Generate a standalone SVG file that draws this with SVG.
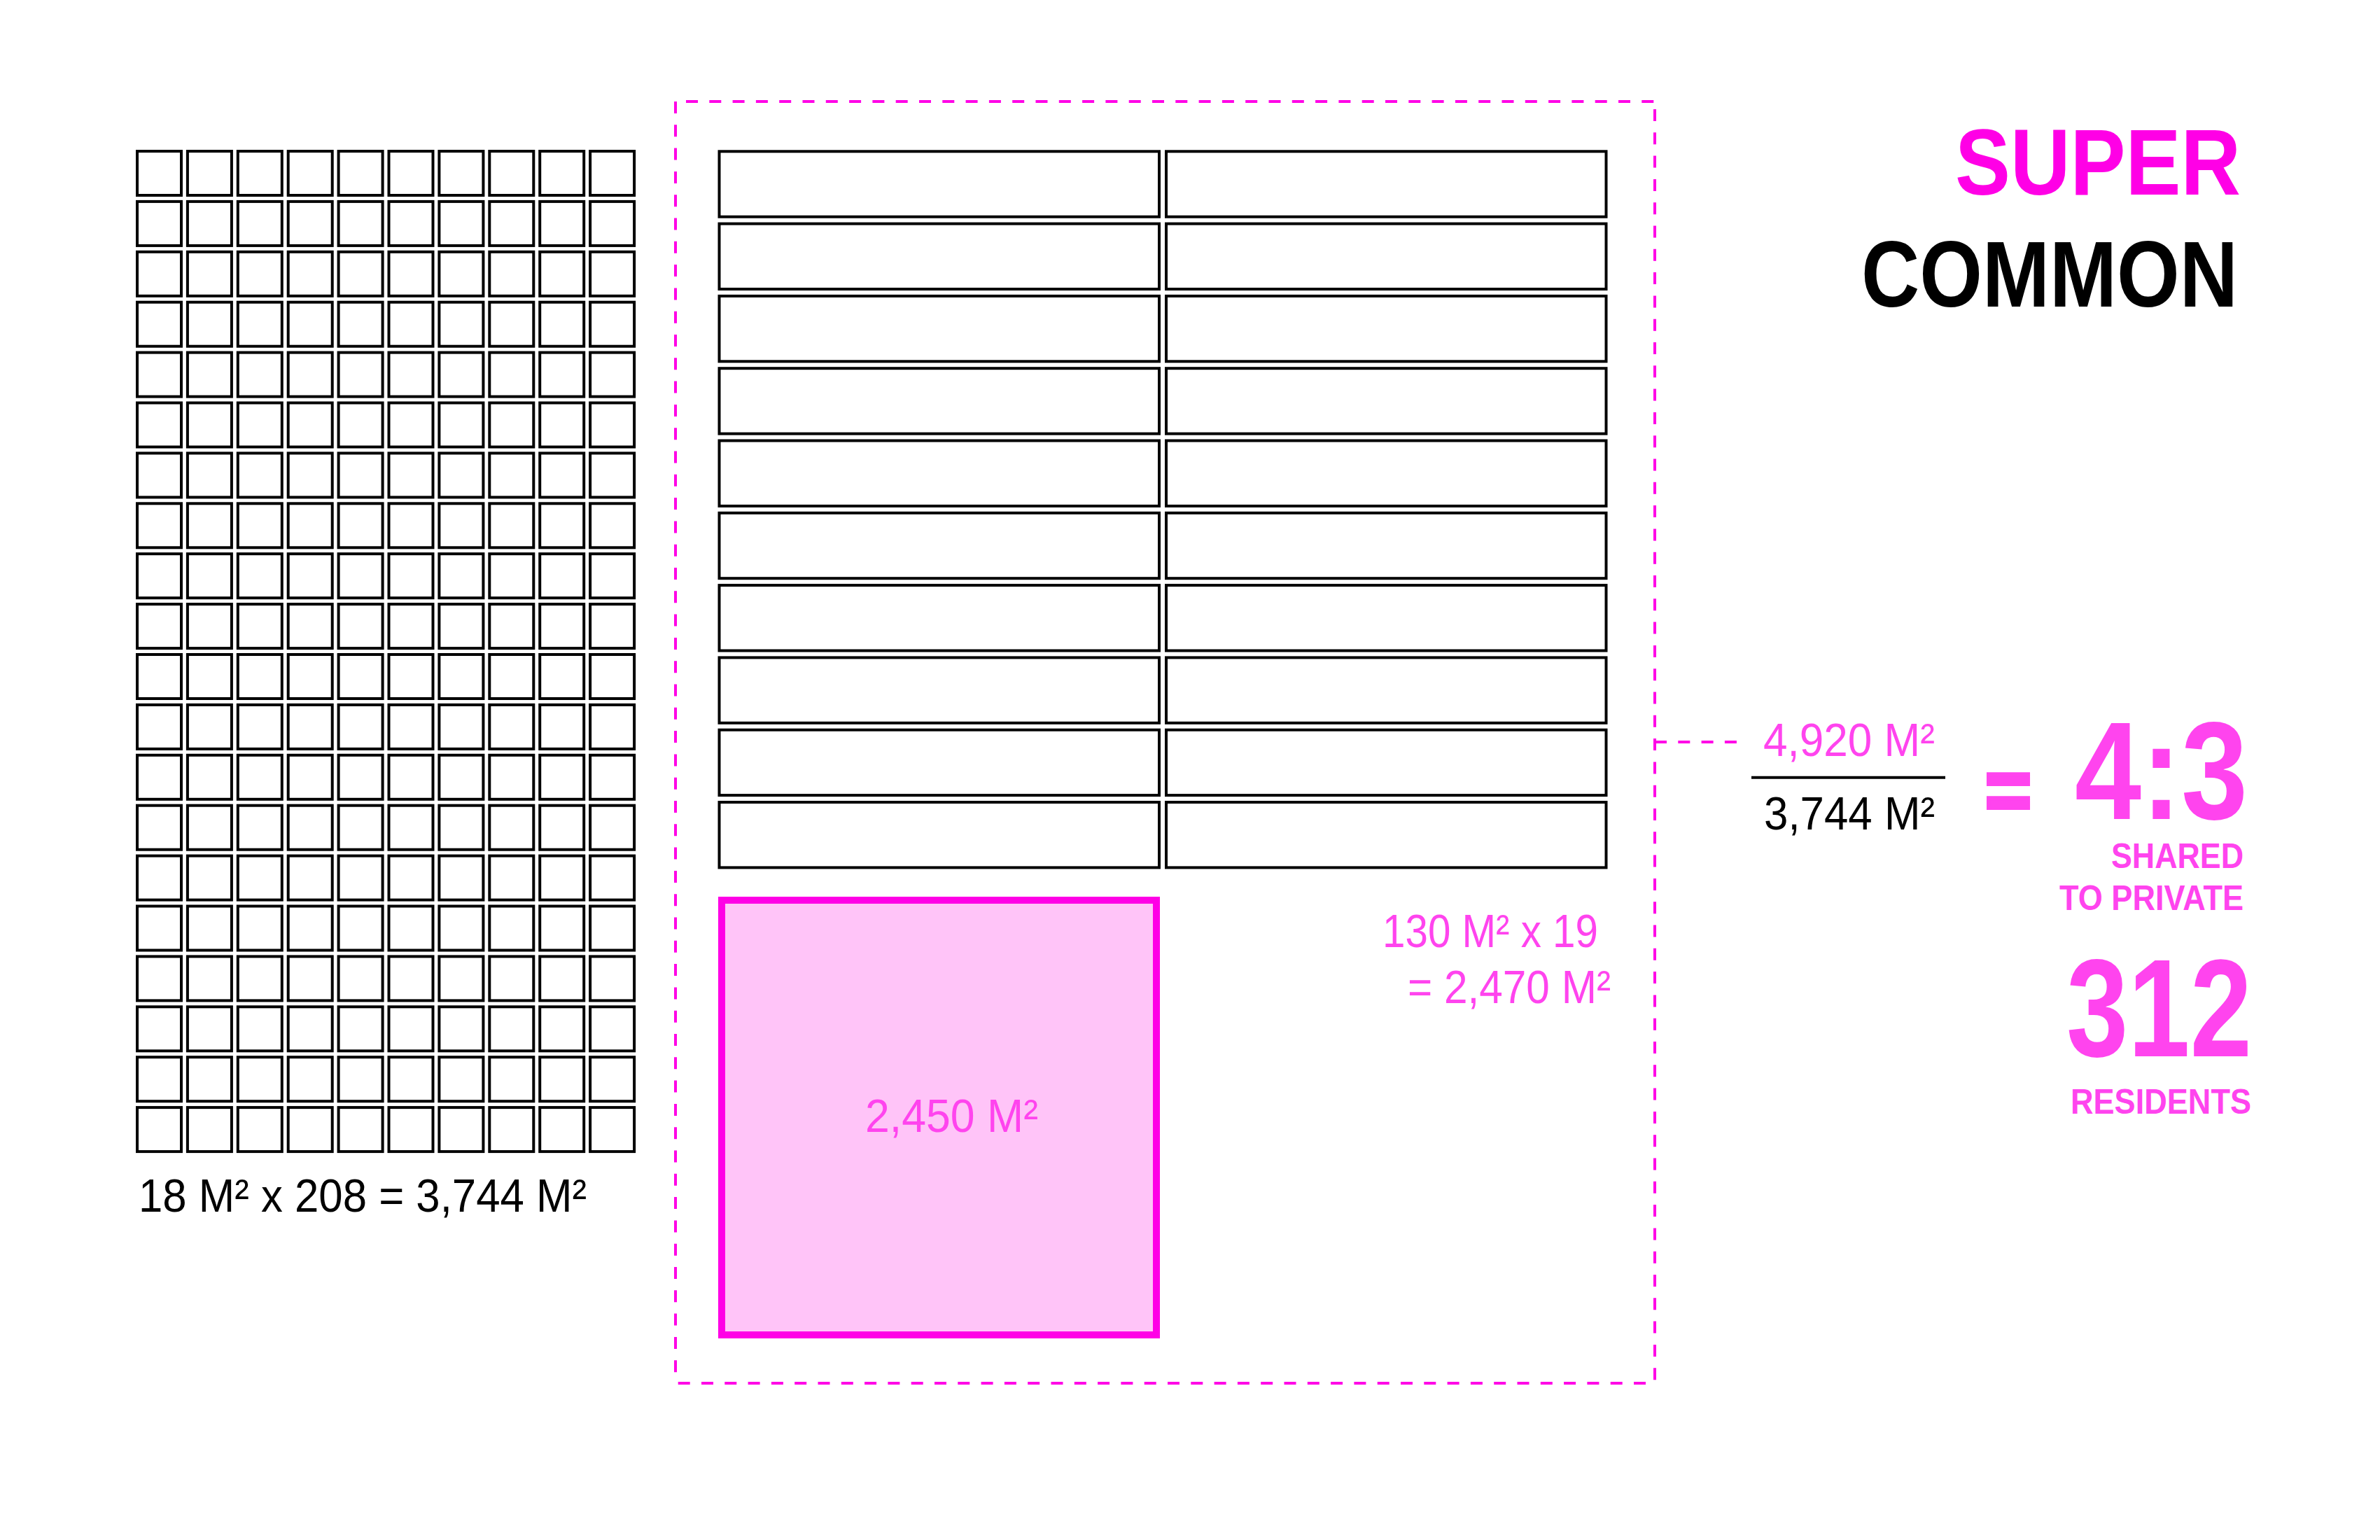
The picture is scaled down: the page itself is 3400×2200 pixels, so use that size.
<svg xmlns="http://www.w3.org/2000/svg" xmlns:xlink="http://www.w3.org/1999/xlink" width="3400" height="2200" viewBox="0 0 3400 2200">
<style>
.cell{fill:#fff;stroke:#000;stroke-width:4}
.unit{fill:#fff;stroke:#000;stroke-width:4}
.dash{fill:none;stroke:#FF00E6;stroke-width:4;stroke-dasharray:17 16.3}
.lbl{font-family:"Liberation Sans",Arial,sans-serif;font-size:66px}
.pk{fill:#FF44EE}
.bk{fill:#000}
.bold{font-family:"Liberation Sans",Arial,sans-serif;font-weight:bold}
</style>
<defs>
<g id="row">
<rect class="cell" x="196" y="216" width="63" height="63"/>
<rect class="cell" x="267.9" y="216" width="63" height="63"/>
<rect class="cell" x="339.8" y="216" width="63" height="63"/>
<rect class="cell" x="411.7" y="216" width="63" height="63"/>
<rect class="cell" x="483.6" y="216" width="63" height="63"/>
<rect class="cell" x="555.5" y="216" width="63" height="63"/>
<rect class="cell" x="627.4" y="216" width="63" height="63"/>
<rect class="cell" x="699.3" y="216" width="63" height="63"/>
<rect class="cell" x="771.2" y="216" width="63" height="63"/>
<rect class="cell" x="843.1" y="216" width="63" height="63"/>
</g>
<g id="pair">
<rect class="unit" x="1027.5" y="216.3" width="628.5" height="93.4"/>
<rect class="unit" x="1666" y="216.3" width="628.5" height="93.4"/>
</g>
</defs>
<rect width="3400" height="2200" fill="#fff"/>

<g id="private-rooms">
<use xlink:href="#row" y="0"/>
<use xlink:href="#row" y="71.9"/>
<use xlink:href="#row" y="143.8"/>
<use xlink:href="#row" y="215.7"/>
<use xlink:href="#row" y="287.6"/>
<use xlink:href="#row" y="359.5"/>
<use xlink:href="#row" y="431.4"/>
<use xlink:href="#row" y="503.3"/>
<use xlink:href="#row" y="575.2"/>
<use xlink:href="#row" y="647.1"/>
<use xlink:href="#row" y="719"/>
<use xlink:href="#row" y="790.9"/>
<use xlink:href="#row" y="862.8"/>
<use xlink:href="#row" y="934.7"/>
<use xlink:href="#row" y="1006.6"/>
<use xlink:href="#row" y="1078.5"/>
<use xlink:href="#row" y="1150.4"/>
<use xlink:href="#row" y="1222.3"/>
<use xlink:href="#row" y="1294.2"/>
<use xlink:href="#row" y="1366.1"/>
<text class="lbl bk" x="198" y="1731" textLength="640" lengthAdjust="spacingAndGlyphs">18 M² x 208 = 3,744 M²</text>
</g>

<g id="shared-area">
<line class="dash" x1="980" y1="145" x2="2365" y2="145"/>
<line class="dash" x1="2364" y1="156" x2="2364" y2="1974"/>
<line class="dash" x1="2351" y1="1976" x2="967" y2="1976"/>
<line class="dash" x1="965" y1="145" x2="965" y2="1963"/>
</g>

<g id="shared-units">
<use xlink:href="#pair" y="0"/>
<use xlink:href="#pair" y="103.3"/>
<use xlink:href="#pair" y="206.6"/>
<use xlink:href="#pair" y="309.9"/>
<use xlink:href="#pair" y="413.2"/>
<use xlink:href="#pair" y="516.5"/>
<use xlink:href="#pair" y="619.8"/>
<use xlink:href="#pair" y="723.1"/>
<use xlink:href="#pair" y="826.4"/>
<use xlink:href="#pair" y="929.7"/>
<text class="lbl pk" x="1975" y="1353" textLength="308" lengthAdjust="spacingAndGlyphs">130 M² x 19</text>
<text class="lbl pk" x="2011" y="1433" textLength="290" lengthAdjust="spacingAndGlyphs">= 2,470 M²</text>
</g>

<g id="common-space">
<rect x="1031" y="1286" width="621" height="621" fill="#FFC4F8" stroke="#FF00E6" stroke-width="10"/>
<text class="lbl pk" x="1236" y="1617" textLength="247" lengthAdjust="spacingAndGlyphs">2,450 M²</text>
</g>

<g id="connectors">
<line class="dash" x1="2364" y1="1060" x2="2481" y2="1060"/>
</g>

<g id="ratio">
<text class="lbl pk" x="2519" y="1080" textLength="245" lengthAdjust="spacingAndGlyphs">4,920 M²</text>
<line x1="2502" y1="1110.7" x2="2779" y2="1110.7" stroke="#000" stroke-width="4"/>
<text class="lbl bk" x="2520" y="1185" textLength="244" lengthAdjust="spacingAndGlyphs">3,744 M²</text>
<text class="bold pk" x="2836" y="1172" font-size="126" stroke="#FF44EE" stroke-width="6" textLength="66" lengthAdjust="spacingAndGlyphs">=</text>
<text class="bold pk" x="2964" y="1170" font-size="198" textLength="247" lengthAdjust="spacingAndGlyphs">4:3</text>
<text class="bold pk" x="3016" y="1240" font-size="50" textLength="189" lengthAdjust="spacingAndGlyphs">SHARED</text>
<text class="bold pk" x="2942" y="1300" font-size="50" textLength="263" lengthAdjust="spacingAndGlyphs">TO PRIVATE</text>
</g>

<g id="residents">
<text class="bold pk" x="2952" y="1509" font-size="198" textLength="265" lengthAdjust="spacingAndGlyphs">312</text>
<text class="bold pk" x="2958" y="1591" font-size="50" textLength="258" lengthAdjust="spacingAndGlyphs">RESIDENTS</text>
</g>

<g id="title">
<text class="bold" x="2793" y="278" font-size="134" fill="#FF00E6" textLength="408" lengthAdjust="spacingAndGlyphs">SUPER</text>
<text class="bold" x="2659" y="438" font-size="134" fill="#000" textLength="538" lengthAdjust="spacingAndGlyphs">COMMON</text>
</g>
</svg>
